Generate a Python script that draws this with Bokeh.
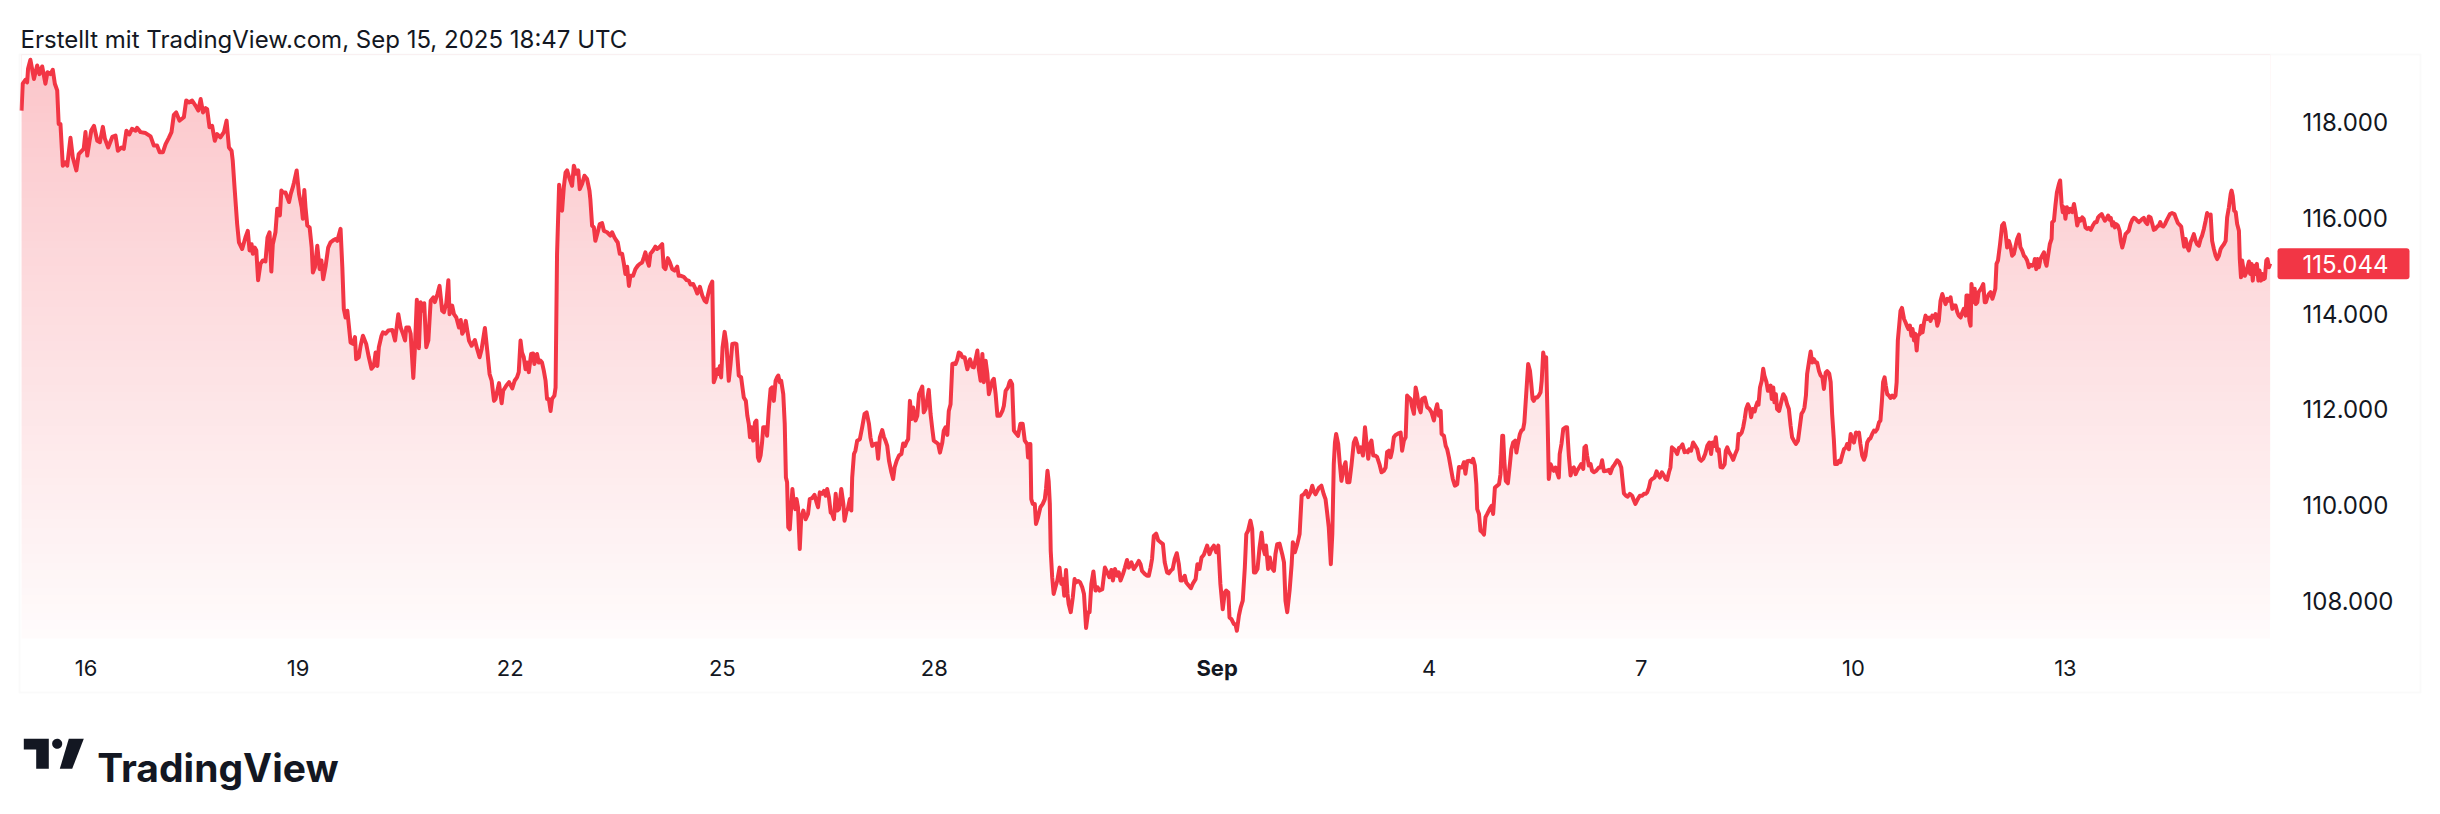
import numpy as np
from bokeh.plotting import figure
from bokeh.models import (Range1d, Label, LabelSet, ColumnDataSource, BoxAnnotation, PolyAnnotation)
from bokeh.core.properties import value
from bokeh.embed import file_html
from bokeh.resources import INLINE

# ---------------- data (hours since Aug 15 00:00 local time, price) ----------------
hours_a = [2.1, 2.5, 3.4, 4.0, 4.3, 5.1, 6.3, 7.4, 8.2, 9.1, 10.2, 10.9, 11.9, 12.7, 13.4, 14.2, 14.7, 15.3,
           16.1, 17.0, 17.6, 18.7, 19.5, 20.7, 21.5, 23.2, 23.8, 24.4, 25.2, 25.8, 26.7, 27.8, 28.7, 29.7,
           30.4, 31.5, 32.9, 34.0, 34.8, 36.0, 36.8, 37.7, 38.7, 39.6, 40.8, 41.3, 42.5, 44.2, 45.9, 47.0,
           48.1, 49.0, 50.1, 51.0, 52.1, 53.0, 53.8, 54.6, 55.7, 57.2, 58.0, 58.9, 60.0, 61.2, 62.1, 62.9,
           63.7, 64.6, 65.1, 65.9, 66.8, 67.7, 68.5, 69.6, 70.8, 71.7, 72.5, 73.4, 73.8, 74.4, 75.3, 75.9,
           77.0, 78.1, 78.9, 79.5, 80.2, 80.6, 81.3, 81.8, 82.4, 83.2, 84.0, 84.9, 85.6, 86.3, 86.9, 87.4,
           88.3, 88.9, 89.8, 90.3, 90.8, 91.7, 92.3, 92.9, 93.5, 94.2, 94.6, 95.5, 96.3, 97.2, 97.6, 98.1,
           98.5, 99.1, 99.9, 100.6, 101.0, 101.7, 102.5, 103.3, 103.9, 104.5, 105.3, 106.2, 107.0, 108.1,
           108.7, 109.3, 110.4, 111.0, 111.5, 112.1, 112.7, 113.8, 114.6, 115.3, 115.7, 116.6, 117.2, 118.0,
           119.1, 120.0, 120.9, 121.7, 122.3, 122.9, 123.4, 124.3, 124.8, 125.7, 126.6, 128.0, 128.9, 130.0,
           130.8, 131.6, 132.3, 132.7, 133.6, 134.2, 135.1, 135.6, 136.3, 137.0, 137.6, 138.4, 138.8, 139.5,
           140.2, 141.0, 141.9, 142.4, 143.3, 144.0, 144.9, 145.5, 146.3, 147.0, 147.4, 148.3, 148.9, 149.7,
           150.6, 151.2, 151.7, 152.3, 152.9, 153.4, 154.0, 154.9, 156.0, 156.8, 157.6, 158.3, 159.4, 160.2,
           161.0, 161.7, 162.5, 163.0, 164.2, 165.1, 165.6, 166.7, 167.6, 168.7, 169.5]
price_a = [118.24, 118.80, 118.88, 118.83, 119.11, 119.30, 118.90, 119.18, 119.00, 119.16, 118.80, 119.04,
           119.00, 119.09, 118.80, 118.66, 117.96, 117.96, 117.09, 117.16, 117.09, 117.67, 117.26, 116.99,
           117.33, 117.44, 117.79, 117.30, 117.61, 117.83, 117.92, 117.61, 117.58, 117.90, 117.65, 117.47,
           117.69, 117.72, 117.40, 117.47, 117.44, 117.82, 117.74, 117.86, 117.82, 117.88, 117.79, 117.77,
           117.70, 117.51, 117.51, 117.37, 117.37, 117.54, 117.67, 117.79, 118.15, 118.20, 118.03, 118.10,
           118.45, 118.41, 118.45, 118.34, 118.24, 118.48, 118.20, 118.29, 118.27, 117.89, 117.92, 117.61,
           117.75, 117.68, 117.79, 118.03, 117.47, 117.40, 117.19, 116.64, 115.87, 115.49, 115.35, 115.59,
           115.73, 115.32, 115.45, 115.25, 115.38, 115.32, 114.70, 115.04, 115.11, 115.09, 115.59, 115.70,
           114.88, 115.45, 115.70, 116.19, 116.05, 116.57, 116.53, 116.53, 116.43, 116.33, 116.50, 116.64,
           116.74, 116.99, 116.50, 116.22, 115.98, 116.58, 116.22, 115.84, 115.80, 115.38, 114.86, 114.97,
           115.42, 114.93, 115.11, 114.72, 114.98, 115.38, 115.49, 115.54, 115.56, 115.52, 115.77, 114.97,
           114.10, 113.92, 114.06, 113.40, 113.37, 113.51, 113.05, 113.09, 113.33, 113.54, 113.37, 113.09,
           112.85, 112.91, 113.19, 112.91, 113.30, 113.54, 113.61, 113.58, 113.65, 113.66, 113.44, 113.99,
           113.71, 113.58, 113.44, 113.71, 113.71, 113.58, 112.66, 113.23, 114.29, 113.28, 114.24, 114.06,
           114.22, 113.30, 113.44, 114.27, 114.34, 114.24, 114.41, 114.58, 114.06, 114.03, 114.22, 114.70,
           113.99, 114.17, 113.99, 113.92, 113.71, 113.87, 113.58, 113.65, 113.85, 113.66, 113.44, 113.33,
           113.45, 113.26, 113.09, 113.26, 113.70, 113.23, 112.74, 112.60, 112.18, 112.22, 112.55, 112.13,
           112.39, 112.50, 112.57, 112.44, 112.60]

hours_b = [170.3, 170.9, 171.5, 172.0, 172.6, 173.2, 173.7, 174.3, 175.1, 175.8, 176.2, 177.1, 177.7, 178.3,
           178.8, 179.4, 180.0, 180.5, 181.1, 181.7, 182.2, 183.0, 183.4, 183.9, 184.6, 185.1, 185.6, 186.2,
           186.8, 187.3, 188.2, 189.0, 189.6, 190.4, 191.1, 191.6, 192.4, 193.2, 194.1, 194.9, 195.2, 195.8,
           196.4, 196.9, 197.7, 198.4, 199.2, 199.8, 200.9, 202.0, 202.6, 203.4, 204.1, 204.5, 205.2, 206.0,
           206.6, 207.1, 207.7, 208.3, 208.8, 209.7, 210.5, 211.3, 212.0, 212.8, 213.4, 213.9, 214.5, 215.1,
           215.6, 216.5, 217.3, 217.9, 218.7, 219.6, 220.1, 220.7, 221.5, 222.2, 223.0, 223.8, 224.7, 225.2,
           226.0, 226.9, 227.9, 228.6, 229.2, 230.1, 230.9, 231.5, 232.4, 233.2, 234.0, 234.6, 235.1, 235.8,
           236.6, 237.1, 237.7, 238.3, 238.8, 239.2, 239.6, 240.1, 240.8, 241.4, 242.2, 242.8, 243.4, 244.2,
           244.8, 245.6, 246.4, 247.3, 248.0, 248.5, 249.0, 249.4, 249.9, 250.5, 251.1, 251.6, 252.1, 252.5,
           253.0, 253.5, 253.9, 254.3, 254.8, 255.2, 255.8, 256.4, 256.9, 257.5, 258.1, 258.6, 259.0, 259.5,
           260.0, 260.7, 261.2, 261.6, 262.0, 262.4, 262.9, 263.4, 263.8, 264.3, 264.8, 265.2, 265.7, 266.3,
           266.8, 267.5, 268.3, 269.1, 269.7, 270.5, 271.3, 272.0, 272.5, 273.1, 273.9, 274.5, 275.1, 275.6,
           276.2, 276.8, 277.3, 277.9, 278.5, 279.0, 279.6, 280.4, 281.1, 281.5, 282.2, 282.6, 283.3, 283.8,
           284.1, 284.7, 285.2, 285.8, 286.7, 287.5, 288.3, 289.0, 289.8, 290.3, 290.9, 291.7, 292.4, 292.9,
           293.5, 294.3, 294.9, 295.4, 296.0, 296.6, 297.4, 298.0, 298.5, 299.2, 300.0, 300.8, 301.4, 302.0,
           302.6, 303.1, 303.7, 304.3, 304.8, 305.6, 306.2, 306.8, 307.3, 307.9, 308.4, 309.0, 309.6, 310.1,
           310.7, 311.3, 311.8, 312.7, 313.3, 313.9, 314.7, 315.2, 315.8, 316.4, 316.9, 317.5, 318.1, 318.6,
           319.2, 319.8, 320.3, 320.9, 321.5, 322.3, 323.2, 324.1, 324.9, 325.4, 326.0, 326.6, 327.1, 327.7,
           328.3, 328.8, 329.4, 330.0, 330.5, 331.1, 331.7, 332.2, 332.8, 333.4, 334.3, 335.1, 335.6, 336.2,
           337.0, 337.5]
price_b = [112.67, 112.78, 113.44, 113.19, 113.09, 112.84, 112.98, 112.78, 113.16, 113.17, 112.95, 113.16,
           112.98, 113.02, 112.98, 112.81, 112.60, 112.22, 112.22, 111.97, 112.22, 112.29, 112.46, 115.25,
           116.69, 116.43, 116.15, 116.64, 116.95, 116.99, 116.81, 116.67, 117.09, 116.92, 116.99, 116.60,
           116.71, 116.88, 116.81, 116.57, 116.39, 115.84, 115.80, 115.52, 115.70, 115.87, 115.89, 115.73,
           115.70, 115.63, 115.70, 115.59, 115.52, 115.49, 115.25, 115.25, 115.04, 114.83, 114.98, 114.58,
           114.79, 114.79, 114.93, 115.00, 115.04, 115.07, 115.18, 115.28, 115.11, 115.00, 115.25, 115.32,
           115.40, 115.35, 115.39, 115.45, 114.97, 114.93, 115.16, 115.07, 114.93, 114.90, 114.98, 114.79,
           114.79, 114.77, 114.70, 114.69, 114.61, 114.62, 114.52, 114.42, 114.56, 114.38, 114.27, 114.24,
           114.38, 114.56, 114.67, 112.57, 112.67, 112.84, 112.74, 112.91, 112.67, 113.30, 113.62, 113.37,
           112.60, 112.95, 113.37, 113.38, 113.37, 112.71, 112.67, 112.25, 112.18, 111.87, 111.70, 111.42,
           111.63, 111.35, 111.73, 111.77, 111.00, 110.93, 111.04, 111.31, 111.63, 111.63, 111.63, 111.45,
           112.01, 112.43, 112.46, 112.18, 112.60, 112.67, 112.71, 112.57, 112.60, 112.32, 111.70, 110.58,
           110.48, 109.54, 109.50, 109.96, 110.34, 110.03, 109.92, 110.13, 109.96, 109.09, 109.75, 109.89,
           109.71, 109.82, 110.13, 110.15, 110.22, 110.06, 109.96, 110.27, 110.24, 110.30, 110.20, 110.34,
           110.17, 109.85, 109.82, 109.71, 110.24, 109.89, 109.92, 110.34, 110.03, 109.68, 109.89, 109.92,
           110.13, 109.89, 110.58, 111.07, 111.14, 111.35, 111.38, 111.63, 111.91, 111.94, 111.70, 111.42,
           111.24, 111.28, 111.29, 110.97, 111.42, 111.57, 111.42, 111.35, 111.24, 110.93, 110.69, 110.55,
           110.79, 110.93, 111.04, 111.07, 111.29, 111.24, 111.33, 111.38, 112.18, 111.80, 112.04, 111.77,
           111.87, 112.32, 112.39, 112.48, 111.94, 112.01, 112.22, 112.41, 111.91, 111.59, 111.35, 111.31,
           111.28, 111.10, 111.31, 111.56, 111.63, 111.47, 111.97, 112.11, 112.95, 112.96, 112.95, 113.05,
           113.19, 113.17, 113.09, 113.09, 112.84, 113.05, 112.89, 112.88, 113.05, 113.23, 112.84, 112.60,
           113.16, 112.57, 113.02, 112.74, 112.32, 112.46, 112.60, 112.64, 112.32, 111.87, 111.87, 111.97,
           112.08, 112.39, 112.46, 112.57]

hours_c = [337.8, 338.4, 339.0, 339.5, 340.4, 341.2, 342.0, 342.7, 343.5, 343.8, 344.3, 344.6, 344.9, 345.4,
           346.1, 346.5, 347.2, 348.0, 348.8, 349.5, 349.9, 350.4, 350.8, 351.2, 351.5, 352.0, 352.5, 353.1,
           353.7, 354.5, 355.1, 355.6, 356.1, 356.7, 357.2, 357.6, 358.3, 359.0, 359.6, 360.1, 360.8, 361.5,
           362.2, 362.8, 363.5, 364.2, 364.7, 365.3, 366.0, 366.7, 367.4, 368.1, 369.0, 369.9, 370.7, 371.4,
           372.1, 372.6, 373.3, 374.1, 374.6, 375.2, 376.0, 376.7, 377.4, 378.0, 378.9, 379.7, 380.5, 381.4,
           382.0, 382.5, 383.4, 384.2, 384.8, 385.4, 385.9, 386.5, 387.3, 388.0, 388.8, 389.6, 390.2, 391.0,
           391.6, 392.3, 392.9, 393.6, 394.3, 395.0, 395.6, 396.1, 397.0, 397.5, 398.4, 399.1, 399.7, 400.7,
           401.3, 402.0, 402.7, 403.5, 404.6, 405.4, 406.1, 406.9, 407.7, 408.4, 409.1, 409.9, 410.6, 411.1,
           411.8, 412.2, 412.9, 413.7, 414.2, 414.7, 415.4, 416.0, 416.7, 417.4, 417.9, 418.5, 419.3, 419.9,
           420.5, 421.0, 421.7, 422.4, 423.1, 423.6, 424.2, 424.6, 425.3, 425.9, 426.5, 427.3, 427.8, 428.4,
           429.2, 430.1, 430.7, 431.2, 431.8, 432.6, 433.3, 433.7, 434.4, 435.2, 436.0, 436.3, 436.7, 437.4,
           438.2, 438.9, 439.7, 440.3, 440.8, 441.4, 442.5, 443.4, 444.2, 444.8, 445.4, 445.9, 446.6, 447.1,
           447.6, 448.0, 448.4, 449.1, 449.6, 450.2, 451.0, 451.6, 452.2, 452.9, 453.6, 454.4, 455.0, 455.6,
           456.1, 456.8, 457.5, 458.2, 458.7, 459.3, 459.9, 460.4, 461.0, 461.6, 462.3, 463.1, 463.8, 464.6,
           465.2, 465.7, 466.3, 466.9, 467.4, 468.0, 468.6, 469.5, 470.3, 470.8, 471.4, 472.0, 472.5, 473.1,
           473.7, 474.2, 474.8, 475.4, 475.9, 476.5, 477.1, 477.6, 478.5, 479.3, 480.1, 480.8, 481.6, 482.2,
           482.7, 483.3, 483.9, 484.2, 485.0, 485.6, 486.1, 486.7, 487.3, 488.0, 488.7, 489.5, 490.1, 490.6,
           491.2, 491.8, 492.3, 492.9, 493.7, 494.4, 494.9, 495.5, 496.0, 496.3, 496.9, 497.4, 498.0, 498.6,
           499.1, 499.7, 500.5, 501.2, 501.7, 502.3, 503.1, 503.7, 504.2, 504.8]
price_c = [112.60, 112.53, 111.56, 111.52, 111.45, 111.70, 111.70, 111.35, 111.28, 111.00, 111.28, 111.28,
           110.13, 110.03, 110.03, 109.61, 109.75, 109.96, 110.03, 110.13, 110.34, 110.72, 110.51, 110.03,
           109.05, 108.50, 108.15, 108.29, 108.42, 108.70, 108.36, 108.46, 108.11, 108.65, 108.15, 107.94,
           107.77, 108.08, 108.46, 108.39, 108.42, 108.39, 108.29, 108.15, 107.44, 107.77, 107.77, 108.36,
           108.62, 108.22, 108.29, 108.22, 108.25, 108.70, 108.60, 108.50, 108.65, 108.43, 108.67, 108.53,
           108.60, 108.43, 108.56, 108.70, 108.86, 108.70, 108.81, 108.67, 108.74, 108.84, 108.77, 108.63,
           108.57, 108.53, 108.53, 108.70, 108.88, 109.36, 109.41, 109.27, 109.23, 109.19, 108.81, 108.60,
           108.58, 108.64, 108.67, 108.88, 109.00, 108.77, 108.43, 108.43, 108.53, 108.39, 108.32, 108.27,
           108.36, 108.46, 108.77, 108.67, 108.91, 108.97, 109.16, 108.98, 109.09, 109.16, 109.02, 109.16,
           108.36, 107.83, 108.18, 108.22, 108.18, 107.66, 107.62, 107.52, 107.52, 107.38, 107.70, 107.87,
           108.01, 108.70, 109.40, 109.47, 109.68, 109.50, 108.60, 108.60, 108.67, 109.12, 109.43, 109.12,
           108.98, 109.16, 108.67, 108.91, 108.70, 108.63, 108.98, 109.19, 109.20, 108.98, 108.81, 108.01,
           107.77, 108.22, 108.77, 109.23, 109.02, 109.19, 109.40, 109.75, 110.20, 110.23, 110.30, 110.17,
           110.27, 110.41, 110.30, 110.23, 110.36, 110.41, 110.23, 110.13, 109.82, 109.54, 108.77, 109.40,
           110.86, 111.31, 111.49, 111.28, 110.90, 110.51, 110.79, 110.90, 110.48, 110.48, 110.83, 111.31,
           111.40, 111.28, 111.11, 111.21, 111.04, 111.63, 111.31, 110.97, 111.28, 111.35, 111.04, 111.04,
           111.01, 110.86, 110.69, 110.72, 110.79, 111.11, 111.14, 111.00, 111.14, 111.42, 111.47, 111.50,
           111.52, 111.14, 111.35, 111.42, 112.29, 112.25, 112.22, 112.05, 111.91, 112.46, 112.32, 112.05,
           111.94, 112.22, 112.25, 112.05, 112.01, 111.94, 111.77, 111.99, 112.11, 111.87, 111.97, 111.49,
           111.45, 111.24, 111.17, 111.00, 110.79, 110.55, 110.41, 110.44, 110.80, 110.79, 110.79, 110.90,
           110.66, 110.92, 110.93, 110.90, 110.97, 110.83, 110.44, 109.92, 109.82, 109.47, 109.44, 109.39,
           109.75, 109.82, 109.92, 109.99, 109.82, 110.37, 110.41, 110.44, 110.65, 111.45]

hours_d = [505.1, 505.5, 506.0, 506.7, 507.4, 507.9, 508.5, 509.2, 509.6, 510.1, 510.8, 511.3, 511.9, 512.3,
           513.0, 513.6, 514.2, 514.6, 515.1, 515.5, 516.1, 516.6, 517.2, 517.8, 518.2, 518.7, 519.1, 519.7,
           520.2, 520.6, 521.2, 521.7, 522.3, 522.9, 523.4, 524.0, 524.3, 524.9, 525.5, 526.3, 526.8, 527.4,
           528.0, 528.5, 529.1, 529.7, 530.2, 530.9, 531.6, 532.3, 532.7, 533.2, 533.6, 534.2, 534.8, 535.3,
           535.9, 536.7, 537.6, 538.2, 538.7, 539.3, 540.2, 541.0, 541.5, 542.2, 542.9, 543.8, 544.5, 545.2,
           545.6, 546.1, 546.8, 547.4, 548.1, 548.9, 549.5, 550.0, 550.8, 551.5, 552.3, 552.9, 553.5, 554.0,
           554.6, 555.1, 555.7, 556.5, 557.2, 557.6, 558.3, 559.0, 559.7, 560.3, 560.8, 561.4, 561.9, 562.4,
           563.1, 563.6, 564.2, 564.8, 565.3, 566.0, 566.7, 567.4, 567.8, 568.3, 568.9, 569.6, 570.3, 571.0,
           571.7, 572.3, 573.0, 573.7, 574.4, 575.1, 575.7, 576.2, 576.8, 577.3, 577.8, 578.3, 578.9, 579.6,
           580.3, 580.7, 581.2, 581.8, 582.5, 583.2, 583.9, 584.6, 585.0, 585.5, 586.1, 586.6, 587.1, 587.6,
           588.2, 588.9, 589.3, 589.8, 590.5, 590.9, 591.4, 591.8, 592.3, 592.9, 593.4, 593.8, 594.5, 595.0,
           595.4, 595.9, 596.3, 596.8, 597.2, 597.7, 598.1, 598.8, 599.5, 600.2, 600.9, 601.5, 602.1, 602.7,
           603.2, 603.8, 604.5, 605.2, 605.8, 606.4, 607.0, 607.4, 607.9, 608.3, 609.0, 609.5, 610.0, 610.6,
           611.2, 611.7, 612.3, 612.9, 613.5, 614.0, 614.6, 615.1, 615.8, 616.3, 616.8, 617.4, 617.8, 618.5,
           619.1, 619.6, 620.2, 620.8, 621.5, 621.9, 622.5, 623.1, 623.6, 624.2, 624.9, 625.3, 625.9, 626.4,
           627.0, 627.6, 628.1, 628.7, 629.3, 629.8, 630.4, 631.0, 631.5, 632.1, 632.7, 633.2, 633.7, 634.1,
           634.6, 635.0, 635.5, 636.1, 636.6, 637.2, 637.8, 638.3, 638.7, 639.1, 639.6, 640.0, 640.5, 641.2,
           641.7, 642.3, 642.7, 643.2, 643.7, 644.1, 644.6, 645.0, 645.5, 645.9, 646.6, 647.0, 647.5, 648.0,
           648.5, 649.1, 649.7, 650.2, 650.8, 651.4, 651.9, 652.5, 653.0, 653.6, 654.2, 654.7, 655.3, 655.9,
           656.4, 657.0, 657.6, 658.1, 658.7, 659.3, 659.8, 660.4, 661.0, 661.5, 662.1, 662.4, 662.9, 663.4,
           663.8, 664.1, 664.7, 665.2, 665.6, 666.1, 666.5, 667.0, 667.6, 668.1, 668.6, 669.0, 669.5, 670.0,
           670.6, 671.2, 671.7, 672.2, 672.6, 673.1]
price_d = [111.45, 110.93, 110.51, 110.46, 110.86, 111.17, 111.31, 111.35, 111.10, 111.28, 111.49, 111.56,
           111.59, 111.73, 112.39, 112.95, 112.81, 112.57, 112.22, 112.18, 112.25, 112.25, 112.29, 112.36,
           112.60, 113.19, 113.05, 113.09, 111.77, 110.55, 110.86, 110.79, 110.72, 110.79, 110.69, 110.58,
           111.07, 111.28, 111.59, 111.63, 111.63, 111.04, 110.62, 110.76, 110.79, 110.65, 110.72, 110.79,
           110.86, 110.76, 111.21, 111.24, 111.04, 110.83, 110.86, 110.72, 110.69, 110.72, 110.79, 110.79,
           110.94, 110.71, 110.72, 110.74, 110.67, 110.79, 110.85, 110.94, 110.90, 110.79, 110.55, 110.25,
           110.20, 110.18, 110.24, 110.20, 110.10, 110.03, 110.13, 110.20, 110.20, 110.24, 110.24, 110.27,
           110.37, 110.51, 110.55, 110.58, 110.71, 110.65, 110.58, 110.69, 110.62, 110.55, 110.53, 110.69,
           110.79, 111.21, 111.17, 111.14, 111.07, 111.20, 111.21, 111.27, 111.11, 111.13, 111.11, 111.17,
           111.14, 111.31, 111.24, 111.17, 110.97, 110.93, 110.97, 111.07, 111.24, 111.31, 111.07, 111.31,
           111.24, 111.42, 111.14, 111.17, 110.80, 110.79, 110.86, 111.14, 111.21, 111.11, 111.04, 110.95,
           111.07, 111.17, 111.49, 111.47, 111.52, 111.63, 111.80, 112.01, 112.11, 112.01, 111.84, 112.01,
           111.96, 112.06, 112.15, 112.10, 112.46, 112.60, 112.85, 112.71, 112.57, 112.39, 112.46, 112.50,
           112.22, 112.46, 112.15, 112.32, 112.01, 111.97, 112.15, 112.32, 112.25, 112.11, 112.01, 111.66,
           111.42, 111.35, 111.28, 111.35, 111.63, 111.91, 111.97, 112.04, 112.29, 112.74, 113.02, 113.21,
           112.98, 113.05, 112.98, 112.98, 112.81, 112.71, 112.67, 112.43, 112.77, 112.80, 112.75, 112.57,
           111.90, 111.35, 110.86, 110.86, 110.93, 110.90, 111.04, 111.17, 111.21, 111.28, 111.17, 111.49,
           111.38, 111.31, 111.52, 111.49, 111.52, 111.28, 111.04, 110.95, 111.04, 111.31, 111.38, 111.40,
           111.49, 111.56, 111.54, 111.59, 111.73, 111.77, 112.18, 112.57, 112.67, 112.50, 112.32, 112.29,
           112.24, 112.29, 112.25, 112.29, 112.57, 113.44, 113.78, 114.06, 114.12, 113.89, 113.82, 113.73,
           113.68, 113.75, 113.54, 113.68, 113.44, 113.58, 113.23, 113.54, 113.58, 113.75, 113.61, 113.82,
           113.96, 113.89, 113.92, 113.85, 113.96, 113.92, 113.99, 113.75, 113.85, 114.27, 114.41, 114.31,
           114.20, 114.31, 114.27, 114.34, 114.10, 114.17, 114.17, 114.03, 113.96, 113.92, 114.03, 114.10,
           113.96, 114.38, 114.38, 113.85, 113.75, 114.62, 114.24, 114.52, 114.20, 114.24, 114.45, 114.49,
           114.55, 114.62, 114.24, 114.24, 114.34, 114.41, 114.45, 114.31, 114.41, 114.52, 115.04, 115.11]

hours_e = [673.8, 674.5, 675.1, 675.6, 676.2, 676.8, 677.3, 677.9, 678.5, 679.0, 679.6, 680.2, 680.7, 681.3,
           681.9, 682.4, 683.0, 683.6, 684.1, 684.7, 685.3, 685.6, 686.1, 686.5, 687.0, 687.5, 688.1, 688.7,
           689.2, 689.6, 690.1, 690.7, 691.3, 691.5, 692.1, 692.6, 693.1, 693.8, 694.2, 694.7, 695.1, 695.6,
           696.0, 696.5, 697.2, 697.7, 698.3, 698.9, 699.4, 700.0, 700.6, 701.1, 701.7, 702.2, 702.8, 703.4,
           703.9, 704.6, 705.3, 706.0, 706.6, 707.1, 707.7, 708.3, 708.8, 709.4, 709.9, 710.5, 711.0, 711.4,
           711.9, 712.3, 712.8, 713.2, 713.8, 714.4, 714.8, 715.3, 715.8, 716.4, 717.0, 717.5, 718.1, 718.7,
           719.2, 719.8, 720.4, 720.9, 721.5, 722.1, 722.6, 723.2, 723.8, 724.3, 724.9, 725.5, 726.0, 726.6,
           727.2, 727.7, 728.2, 728.6, 729.2, 729.8, 730.3, 730.9, 731.5, 732.2, 733.0, 733.6, 734.2, 734.7,
           735.3, 735.9, 736.3, 736.8, 737.3, 737.9, 738.5, 739.0, 739.6, 740.2, 740.7, 741.3, 741.9, 742.4,
           743.0, 743.6, 744.1, 744.7, 745.3, 745.8, 746.4, 747.0, 747.5, 748.1, 748.7, 749.2, 749.8, 750.4,
           750.9, 751.5, 752.1, 752.4, 752.8, 753.3, 753.8, 754.3, 754.9, 755.2, 755.6, 756.0, 756.5, 756.9,
           757.4, 757.8, 758.3, 758.7, 759.2, 759.6, 760.1, 760.5, 761.0, 761.5, 761.9, 762.4, 762.8, 763.3,
           763.7, 764.2, 764.6, 765.1, 765.5]
price_e = [115.45, 115.84, 115.89, 115.73, 115.38, 115.52, 115.42, 115.21, 115.25, 115.39, 115.56, 115.65,
           115.39, 115.32, 115.21, 115.18, 115.11, 114.97, 115.02, 115.00, 115.04, 115.14, 114.93, 115.14,
           114.97, 115.14, 115.21, 115.28, 115.07, 115.00, 115.21, 115.45, 115.56, 115.91, 115.94, 116.26,
           116.53, 116.71, 116.78, 116.29, 116.12, 116.22, 115.98, 116.22, 116.12, 116.19, 116.12, 116.29,
           116.12, 115.84, 115.98, 115.94, 116.01, 115.98, 115.80, 115.77, 115.79, 115.75, 115.84, 115.91,
           115.91, 116.01, 116.05, 116.08, 116.01, 115.94, 115.98, 116.05, 115.96, 116.00, 115.84, 115.91,
           115.80, 115.87, 115.84, 115.73, 115.52, 115.38, 115.49, 115.66, 115.70, 115.73, 115.87, 115.96,
           116.00, 115.98, 115.94, 115.91, 115.94, 115.98, 116.00, 115.91, 115.87, 116.03, 116.01, 115.87,
           115.75, 115.77, 115.82, 115.84, 115.91, 115.84, 115.82, 115.87, 115.94, 116.01, 116.08, 116.10,
           116.08, 115.98, 115.89, 115.86, 115.82, 115.56, 115.40, 115.56, 115.40, 115.32, 115.49, 115.56,
           115.66, 115.52, 115.45, 115.42, 115.56, 115.63, 115.77, 115.94, 116.10, 116.05, 116.07, 115.52,
           115.35, 115.21, 115.14, 115.21, 115.35, 115.40, 115.45, 115.52, 116.01, 116.22, 116.50, 116.57,
           116.46, 116.15, 116.12, 115.87, 115.73, 115.14, 114.76, 115.11, 114.90, 114.79, 114.86, 114.97,
           115.09, 114.83, 115.04, 114.69, 115.00, 114.83, 115.04, 114.69, 114.90, 114.69, 114.83, 114.72,
           114.74, 115.11, 115.14, 114.97, 115.044]

hours = hours_a + hours_b + hours_c + hours_d + hours_e
price = price_a + price_b + price_c + price_d + price_e

price_ticks = [108, 110, 112, 114, 116, 118]
day_ticks = [24, 96, 168, 240, 312, 408, 480, 552, 624, 696]      # local midnights, hours since Aug 15
day_labels = ["16", "19", "22", "25", "28", "Sep", "4", "7", "10", "13"]
day_styles = ["normal"] * 5 + ["bold"] + ["normal"] * 4
last_price = 115.044
title_text = "Erstellt mit TradingView.com, Sep 15, 2025 18:47 UTC"
brand_text = "TradingView"

# ---------------- layout / styling ----------------
RED = "#F23645"
TXT = "#131722"
FONT = "Inter"
W, H = 2440, 814
# price pane in page pixels and the data window it shows
PANE_L, PANE_R, PANE_T, PANE_B = 19, 2272, 54, 638
X0, X1 = 1.4, 766.3
Y0, Y1 = 107.22, 119.41
kx = (X1 - X0) / (PANE_R - PANE_L)
ky = (Y1 - Y0) / (PANE_B - PANE_T)
x_range = Range1d(X0 - PANE_L * kx, X1 + (W - PANE_R) * kx)
y_range = Range1d(Y0 - (H - PANE_B) * ky, Y1 + PANE_T * ky)

p = figure(width=W, height=H, output_backend="svg", toolbar_location=None,
           x_range=x_range, y_range=y_range, x_axis_location=None, y_axis_location=None,
           min_border=0)
p.outline_line_color = None
p.grid.visible = False
p.background_fill_color = "white"
p.border_fill_color = "white"

def sy(py):          # page pixel (from top) -> screen units (from bottom)
    return H - py

# gradient under the line: a full-pane vertical gradient, then white above the line
n = 256
alpha = np.linspace(0.02, 0.29, n)
img = np.zeros((n, 2), dtype=np.uint32)
view = img.view(dtype=np.uint8).reshape((n, 2, 4))
view[:, :, 0] = 242
view[:, :, 1] = 54
view[:, :, 2] = 69
view[:, :, 3] = (alpha * 255).astype(np.uint8)[:, None]
p.image_rgba(image=[img], x=hours[0], y=Y0, dw=hours[-1] - hours[0], dh=Y1 - Y0)
p.varea(x=hours, y1=price, y2=Y1, fill_color="white")
p.line(hours, price, line_color=RED, line_width=4, line_join="round")

# container border
p.add_layout(BoxAnnotation(left=PANE_L, right=2420, top=sy(PANE_T), bottom=sy(692),
                           left_units="screen", right_units="screen", top_units="screen", bottom_units="screen",
                           fill_alpha=0, line_color="#efefef", line_width=2))

# price scale labels
ysrc = ColumnDataSource(dict(y=price_ticks, text=[f"{v:.3f}" for v in price_ticks]))
p.add_layout(LabelSet(source=ysrc, x=2302, y="y", x_units="screen", y_units="data", text="text",
                      text_align="left", text_baseline="middle", text_font=value(FONT),
                      text_font_size=value("24px"), text_color=TXT))

# time scale labels
xsrc = ColumnDataSource(dict(x=day_ticks, text=day_labels, style=day_styles))
p.add_layout(LabelSet(source=xsrc, x="x", y=sy(675), x_units="data", y_units="screen", text="text",
                      text_align="center", text_baseline="alphabetic", text_font=value(FONT),
                      text_font_size=value("22px"), text_font_style="style", text_color=TXT))

# last price tag: box 31 px tall centred on the last price
half = 15.5 * ky
p.add_layout(BoxAnnotation(left=2277, right=2409, top=last_price + half, bottom=last_price - half,
                           left_units="screen", right_units="screen", top_units="data", bottom_units="data",
                           fill_color=RED, fill_alpha=1, line_alpha=0, border_radius=3))
p.add_layout(Label(x=2302, y=last_price, x_units="screen", y_units="data", text=f"{last_price:.3f}",
                   text_align="left", text_baseline="middle", text_font=FONT, text_font_size="24px",
                   text_color="white"))

# header
p.add_layout(Label(x=20, y=sy(39), x_units="screen", y_units="screen", text=title_text,
                   text_align="left", text_baseline="alphabetic", text_font=FONT, text_font_size="24px",
                   text_color=TXT))

# footer logo
p.add_layout(PolyAnnotation(xs=[23.3, 48.3, 48.3, 35.7, 35.7, 23.3],
                            ys=[sy(738.3), sy(738.3), sy(768.3), sy(768.3), sy(749), sy(749)],
                            xs_units="screen", ys_units="screen", fill_color=TXT, fill_alpha=1, line_alpha=0))
p.add_layout(PolyAnnotation(xs=[68.3, 83.3, 71.7, 59.3],
                            ys=[sy(738.3), sy(738.3), sy(768.3), sy(768.3)],
                            xs_units="screen", ys_units="screen", fill_color=TXT, fill_alpha=1, line_alpha=0))
ang = np.linspace(0, 2 * np.pi, 32)
p.add_layout(PolyAnnotation(xs=list(56.7 + 5 * np.cos(ang)), ys=list(sy(743.3) + 5 * np.sin(ang)),
                            xs_units="screen", ys_units="screen", fill_color=TXT, fill_alpha=1, line_alpha=0))
p.add_layout(Label(x=96.7, y=sy(767), x_units="screen", y_units="screen", text=brand_text,
                   text_align="left", text_baseline="alphabetic", text_font=FONT, text_font_size="39px",
                   text_font_style="bold", text_color=TXT))

open("out.html", "w").write(file_html(p, INLINE))
